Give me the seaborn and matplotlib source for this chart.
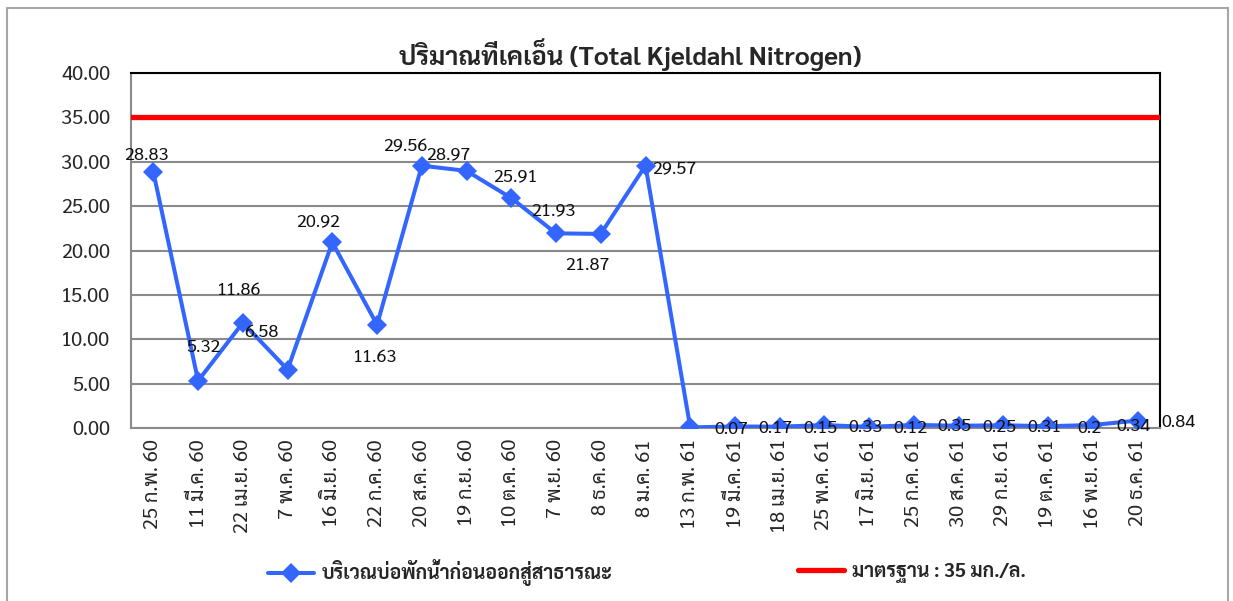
import matplotlib
matplotlib.use("Agg")
import matplotlib.pyplot as plt
from matplotlib.patches import Rectangle
from matplotlib.lines import Line2D
from matplotlib.ticker import FixedLocator, FormatStrFormatter
import seaborn as sns
import pandas as pd

# sampling dates (Thai Buddhist-era short form)
dates = ["25 ก.พ. 60", "11 มี.ค. 60", "22 เม.ย. 60", "7 พ.ค. 60", "16 มิ.ย. 60",
         "22 ก.ค. 60", "20 ส.ค. 60", "19 ก.ย. 60", "10 ต.ค. 60", "7 พ.ย. 60",
         "8 ธ.ค. 60", "8 ม.ค. 61", "13 ก.พ. 61", "19 มี.ค. 61", "18 เม.ย. 61",
         "25 พ.ค. 61", "17 มิ.ย. 61", "25 ก.ค. 61", "30 ส.ค. 61", "29 ก.ย. 61",
         "19 ต.ค. 61", "16 พ.ย. 61", "20 ธ.ค. 61"]
tkn = [28.83, 5.32, 11.86, 6.58, 20.92, 11.63, 29.56, 28.97, 25.91, 21.93,
       21.87, 29.57, 0.07, 0.17, 0.15, 0.33, 0.12, 0.35, 0.25, 0.31,
       0.2, 0.34, 0.84]
value_labels = ["28.83", "5.32", "11.86", "6.58", "20.92", "11.63", "29.56", "28.97",
                "25.91", "21.93", "21.87", "29.57", "0.07", "0.17", "0.15", "0.33",
                "0.12", "0.35", "0.25", "0.31", "0.2", "0.34", "0.84"]
standard = 35
series_name = "บริเวณบ่อพักน้ำก่อนออกสู่สาธารณะ"
standard_name = "มาตรฐาน : 35 มก./ล."
title = "ปริมาณทีเคเอ็น (Total Kjeldahl Nitrogen)"

# where each data label sits relative to its point (pixels)
label_offsets = [(-7, 17), (5, 33), (-4, 32), (-26, 37), (-14, 21), (-2, -33),
                 (-16, 19), (-18, 16), (4, 21), (-3, 23), (-13, -32), (29, -3)] + [(41, -2)] * 11

sns.set_style("white")
plt.rcParams["font.family"] = ["Sarabun", "Noto Sans Thai", "DejaVu Sans"]

BLUE = "#3366ff"
RED = "#ff0000"
GRID = "#8a8a8a"

df = pd.DataFrame({"date": dates, "tkn": tkn})

fig = plt.figure(figsize=(12.33, 6.01), dpi=100)
ax = fig.add_axes([131 / 1233, 1 - 428 / 601, (1160 - 131) / 1233, (428 - 73) / 601])

ax.axhline(standard, color=RED, lw=3.8, zorder=3)
sns.lineplot(data=df, x="date", y="tkn", ax=ax, sort=False, color=BLUE, lw=2.9,
             marker="D", markersize=10, markeredgewidth=0, zorder=4)

for i, (v, lab) in enumerate(zip(tkn, value_labels)):
    ax.annotate(lab, (i, v), xytext=label_offsets[i], textcoords="offset pixels",
                ha="center", va="center", fontsize=13, color="#111111", zorder=5)

ax.set_xlim(-0.5, len(dates) - 0.5)
ax.set_ylim(0, 40)
ax.set_yticks(range(0, 41, 5))
ax.yaxis.set_major_formatter(FormatStrFormatter("%.2f"))
ax.set_xticks(range(len(dates)))
ax.set_xticklabels(dates, rotation=90, fontsize=14.5)
ax.xaxis.set_minor_locator(FixedLocator([i - 0.5 for i in range(len(dates) + 1)]))
ax.tick_params(axis="x", which="major", length=0, pad=8)
ax.tick_params(axis="x", which="minor", length=7, width=1.5, color=GRID, direction="out")
ax.tick_params(axis="y", length=7, width=1.5, color=GRID, labelsize=14.5, pad=8, direction="out")
ax.set_xlabel("")
ax.set_ylabel("")
ax.grid(axis="y", color=GRID, lw=1.5, zorder=1)
ax.set_axisbelow(True)
for side in ["left", "bottom"]:
    ax.spines[side].set_color(GRID)
    ax.spines[side].set_linewidth(1.5)
for side in ["top", "right"]:
    ax.spines[side].set_color("black")
    ax.spines[side].set_linewidth(1.5)

fig.text(0.511, 1 - 55 / 601, title, ha="center", va="center", fontsize=18.5, fontweight="bold")

# legend, two separate entries as laid out in the original sheet
h1 = Line2D([], [], color=BLUE, lw=2.9, marker="D", markersize=10, markeredgewidth=0)
h2 = Line2D([], [], color=RED, lw=3.8)
for h, name, xpos in [(h1, series_name, 250 / 1233), (h2, standard_name, 780 / 1233)]:
    leg = fig.legend([h], [name], loc="center left", bbox_to_anchor=(xpos, 1 - 573 / 601),
                     frameon=False, handlelength=2.4, handletextpad=0.4,
                     prop={"size": 14, "weight": "bold"})

fig.add_artist(Rectangle((7 / 1233, -0.02), (1228 - 7) / 1233, 1.02 - 8 / 601,
                         transform=fig.transFigure, fill=False, edgecolor="#a6a6a6", lw=1.5))

fig.savefig("out.png", dpi=100)
